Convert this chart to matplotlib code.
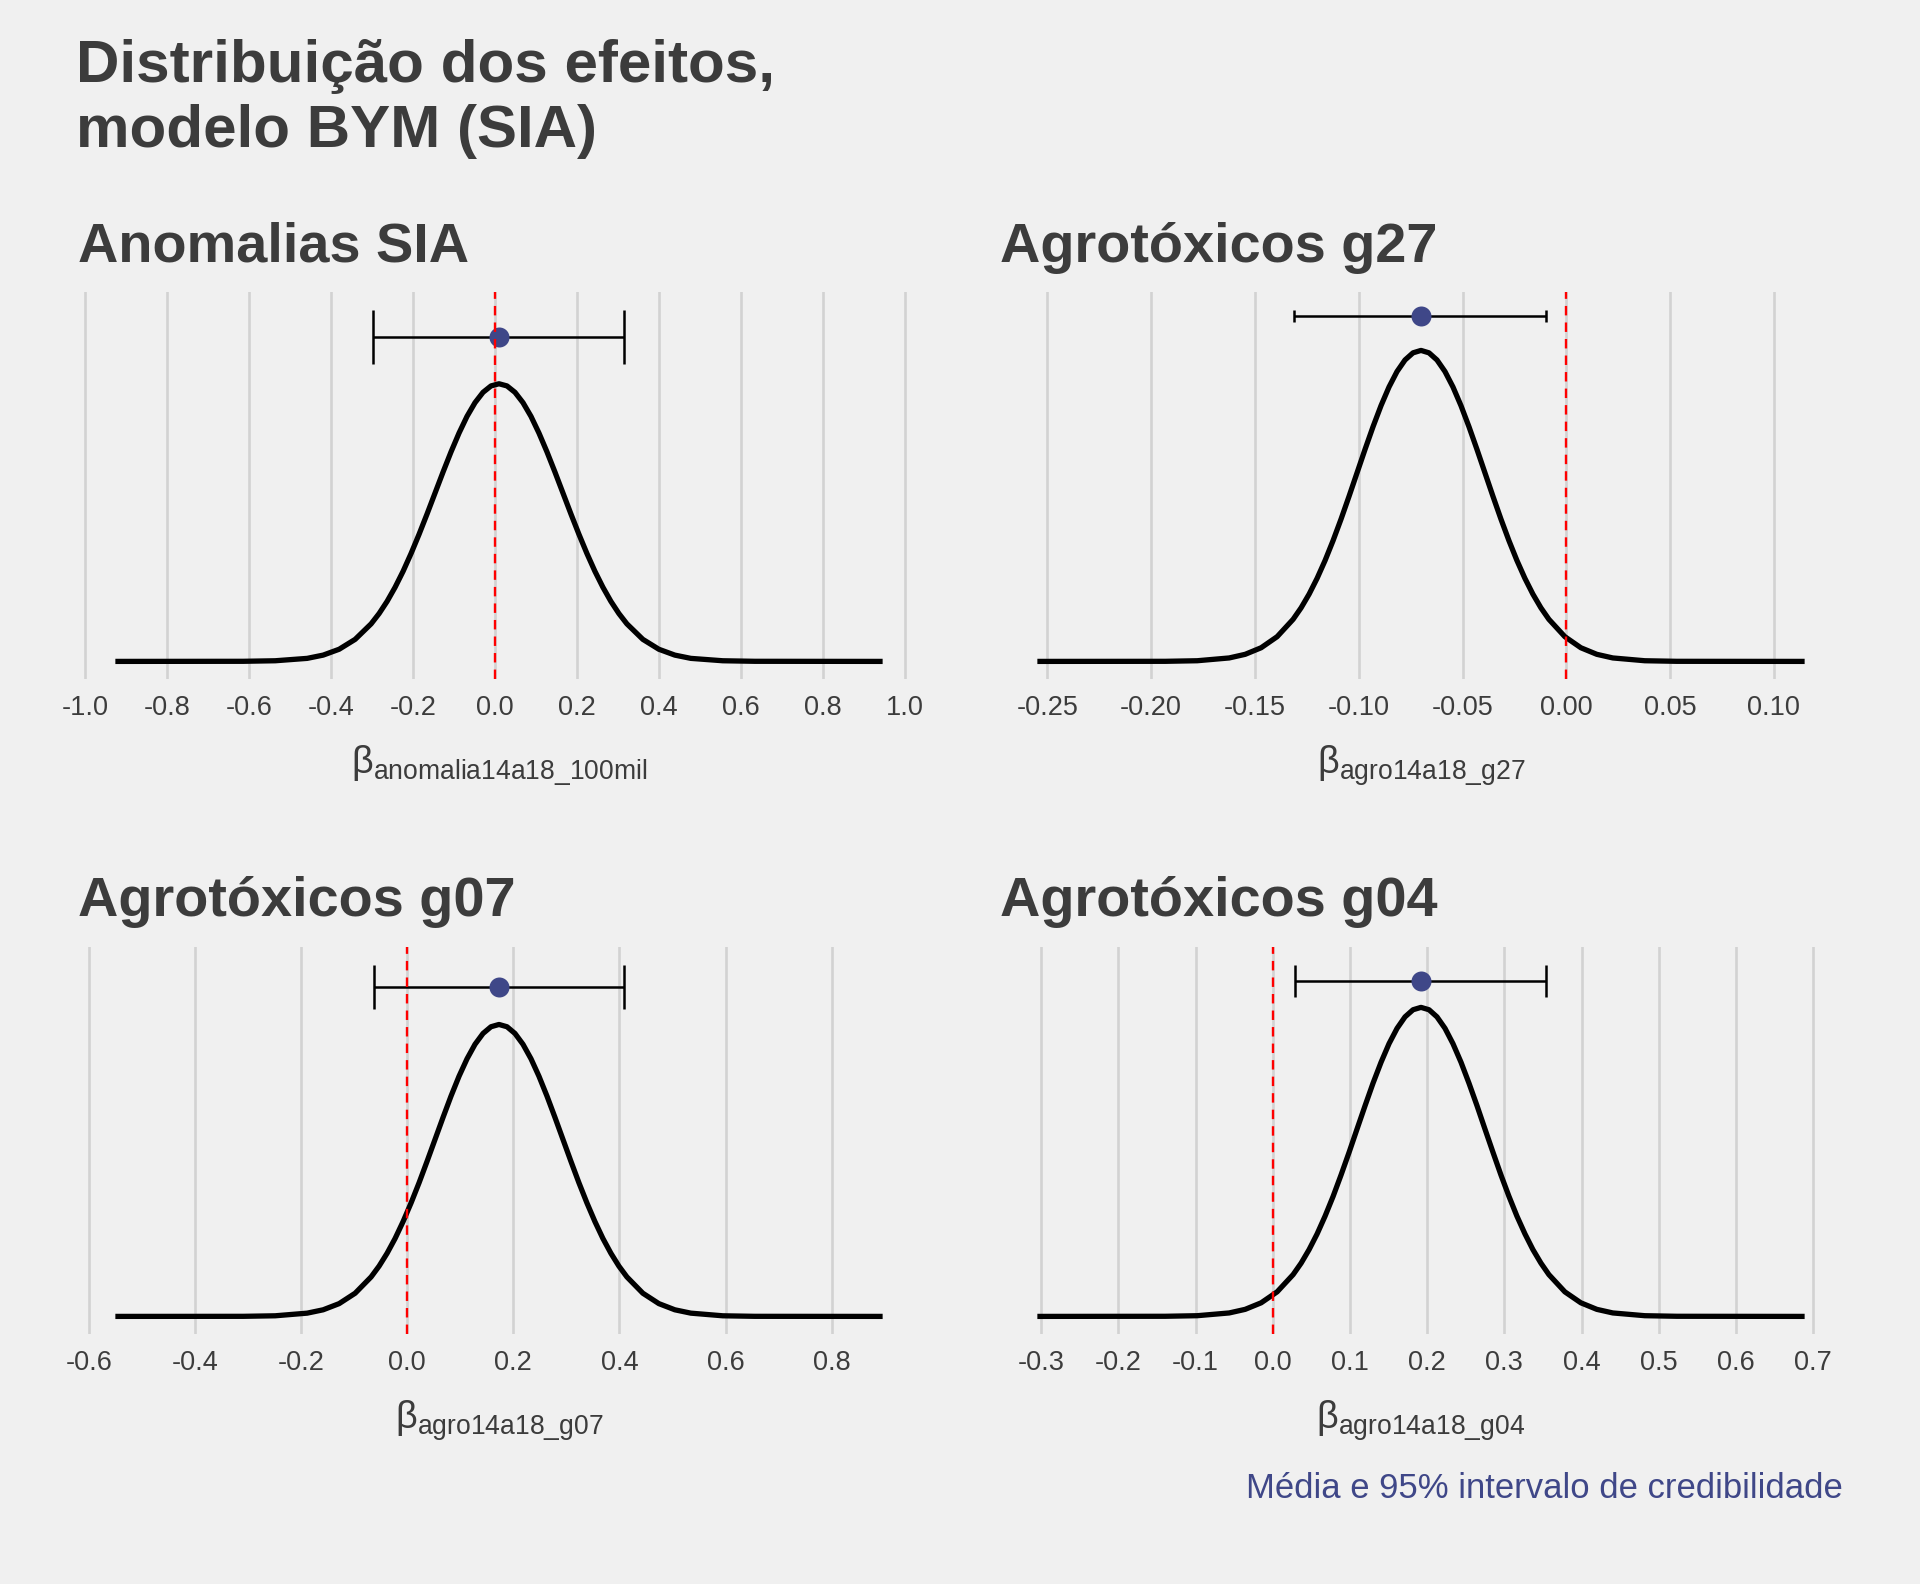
import matplotlib
matplotlib.use("Agg")
import matplotlib.pyplot as plt

# Textos
titulo = ["Distribuição dos efeitos,", "modelo BYM (SIA)"]
paineis = ["Anomalias SIA", "Agrotóxicos g27", "Agrotóxicos g07", "Agrotóxicos g04"]
variaveis = ["anomalia14a18_100mil", "agro14a18_g27", "agro14a18_g07", "agro14a18_g04"]
legenda = "Média e 95% intervalo de credibilidade"

# Densidades marginais
anom_x = [-0.926, -0.614, -0.536, -0.458, -0.419, -0.380, -0.341, -0.302, -0.2825, -0.263,
          -0.2435, -0.224, -0.2045, -0.185, -0.1655, -0.146, -0.1265, -0.107, -0.0875, -0.068,
          -0.0485, -0.029, -0.0095, 0.010, 0.0295, 0.049, 0.0685, 0.088, 0.1075, 0.127,
          0.1465, 0.166, 0.1855, 0.205, 0.2245, 0.244, 0.2635, 0.283, 0.3025, 0.322,
          0.361, 0.400, 0.439, 0.478, 0.556, 0.634, 0.946]
anom_dens = [0.000, 0.001, 0.006, 0.028, 0.058, 0.112, 0.203, 0.346, 0.441, 0.553,
             0.683, 0.830, 0.994, 1.171, 1.358, 1.551, 1.744, 1.930, 2.103, 2.257,
             2.383, 2.478, 2.537, 2.557, 2.537, 2.478, 2.383, 2.257, 2.103, 1.930,
             1.744, 1.551, 1.358, 1.171, 0.994, 0.830, 0.683, 0.553, 0.441, 0.346,
             0.203, 0.112, 0.058, 0.028, 0.006, 0.001, 0.000]

g27_x = [-0.2548, -0.1932, -0.1778, -0.1624, -0.1547, -0.1470, -0.1393, -0.1316, -0.12775, -0.1239,
         -0.12005, -0.1162, -0.11235, -0.1085, -0.10465, -0.1008, -0.09695, -0.0931, -0.08925, -0.0854,
         -0.08155, -0.0777, -0.07385, -0.0700, -0.06615, -0.0623, -0.05845, -0.0546, -0.05075, -0.0469,
         -0.04305, -0.0392, -0.03535, -0.0315, -0.02765, -0.0238, -0.01995, -0.0161, -0.01225, -0.0084,
         -0.0007, 0.0070, 0.0147, 0.0224, 0.0378, 0.0532, 0.1148]
g27_dens = [0.000, 0.004, 0.028, 0.144, 0.295, 0.569, 1.030, 1.753, 2.233, 2.801,
            3.459, 4.204, 5.032, 5.929, 6.878, 7.855, 8.831, 9.775, 10.652, 11.428,
            12.071, 12.552, 12.849, 12.950, 12.849, 12.552, 12.071, 11.428, 10.652, 9.775,
            8.831, 7.855, 6.878, 5.929, 5.032, 4.204, 3.459, 2.801, 2.233, 1.753,
            1.030, 0.569, 0.295, 0.144, 0.028, 0.004, 0.000]

g07_x = [-0.550, -0.309, -0.2488, -0.1885, -0.1584, -0.1283, -0.0981, -0.0680, -0.0529, -0.0379,
         -0.0228, -0.0078, 0.0073, 0.0224, 0.0374, 0.0525, 0.0676, 0.0826, 0.0977, 0.1128,
         0.1278, 0.1429, 0.1579, 0.173, 0.1881, 0.2031, 0.2182, 0.2333, 0.2483, 0.2634,
         0.2784, 0.2935, 0.3086, 0.3236, 0.3387, 0.3538, 0.3688, 0.3839, 0.3989, 0.4140,
         0.4441, 0.4743, 0.5044, 0.5345, 0.5948, 0.6550, 0.8960]
g07_dens = [0.000, 0.001, 0.007, 0.037, 0.075, 0.145, 0.263, 0.448, 0.571, 0.716,
            0.884, 1.075, 1.287, 1.516, 1.758, 2.008, 2.258, 2.499, 2.724, 2.922,
            3.086, 3.209, 3.285, 3.311, 3.285, 3.209, 3.086, 2.922, 2.724, 2.499,
            2.258, 2.008, 1.758, 1.516, 1.287, 1.075, 0.884, 0.716, 0.571, 0.448,
            0.263, 0.145, 0.075, 0.037, 0.007, 0.001, 0.000]

g04_x = [-0.3048, -0.1392, -0.0978, -0.0564, -0.0357, -0.0150, 0.0057, 0.0264, 0.0368, 0.0471,
         0.0575, 0.0678, 0.0782, 0.0885, 0.0989, 0.1092, 0.1196, 0.1299, 0.1403, 0.1506,
         0.1610, 0.1713, 0.1817, 0.192, 0.2024, 0.2127, 0.2231, 0.2334, 0.2438, 0.2541,
         0.2645, 0.2748, 0.2852, 0.2955, 0.3059, 0.3162, 0.3266, 0.3369, 0.3473, 0.3576,
         0.3783, 0.3990, 0.4197, 0.4404, 0.4818, 0.5232, 0.6888]
g04_dens = [0.000, 0.002, 0.011, 0.054, 0.110, 0.212, 0.383, 0.652, 0.831, 1.042,
            1.287, 1.564, 1.872, 2.206, 2.559, 2.922, 3.286, 3.637, 3.963, 4.252,
            4.491, 4.670, 4.781, 4.818, 4.781, 4.670, 4.491, 4.252, 3.963, 3.637,
            3.286, 2.922, 2.559, 2.206, 1.872, 1.564, 1.287, 1.042, 0.831, 0.652,
            0.383, 0.212, 0.110, 0.054, 0.011, 0.002, 0.000]

# Média e intervalo de 95%
medias = [0.010, -0.070, 0.173, 0.192]
inferior = [-0.298, -0.131, -0.063, 0.029]
superior = [0.315, -0.010, 0.409, 0.3545]
altura_barra = [2.99, 14.40, 3.74, 5.235]

# Eixos x
ticks_anom = [-1.0, -0.8, -0.6, -0.4, -0.2, 0.0, 0.2, 0.4, 0.6, 0.8, 1.0]
ticks_g27 = [-0.25, -0.20, -0.15, -0.10, -0.05, 0.00, 0.05, 0.10]
ticks_g07 = [-0.6, -0.4, -0.2, 0.0, 0.2, 0.4, 0.6, 0.8]
ticks_g04 = [-0.3, -0.2, -0.1, 0.0, 0.1, 0.2, 0.3, 0.4, 0.5, 0.6, 0.7]
decimais = [1, 2, 1, 1]

curvas_x = [anom_x, g27_x, g07_x, g04_x]
curvas_y = [anom_dens, g27_dens, g07_dens, g04_dens]
ticks = [ticks_anom, ticks_g27, ticks_g07, ticks_g04]

fundo = "#F0F0F0"
texto = "#3C3C3C"
azul = "#3F4788"

plt.rcParams["font.family"] = ["Liberation Sans", "DejaVu Sans"]
plt.rcParams["mathtext.fontset"] = "custom"
plt.rcParams["mathtext.rm"] = "Liberation Sans"
plt.rcParams["mathtext.it"] = "Liberation Sans"
plt.rcParams["mathtext.default"] = "regular"

W, H = 1920, 1584
fig = plt.figure(figsize=(W / 100, H / 100), dpi=100, facecolor=fundo)

# posições dos painéis em pixels: (esquerda, topo)
lefts = [77, 999, 77, 999]
tops = [292, 292, 947, 947]
pw, ph = 844, 387

for i in range(4):
    ax = fig.add_axes([lefts[i] / W, 1 - (tops[i] + ph) / H, pw / W, ph / H])
    ax.set_facecolor(fundo)
    for s in ax.spines.values():
        s.set_visible(False)

    cx, cy = curvas_x[i], curvas_y[i]
    ax.plot(cx, cy, color="black", lw=3.8, solid_joinstyle="round",
            solid_capstyle="butt", zorder=3)

    y = altura_barra[i]
    ax.hlines(y, inferior[i], superior[i], color="black", lw=1.8, zorder=4)
    ax.vlines([inferior[i], superior[i]], y - 0.25, y + 0.25, color="black", lw=1.8, zorder=4)
    ax.plot([medias[i]], [y], "o", color=azul, ms=14.4, mec="none", zorder=5)

    ax.axvline(0, color="red", lw=1.7, dashes=(4, 3), zorder=6)

    xmin, xmax = min(cx), max(cx)
    dx = (xmax - xmin) * 0.05
    ax.set_xlim(xmin - dx, xmax + dx)
    ytop = y + 0.25
    ax.set_ylim(-0.05 * ytop, 1.05 * ytop)

    ax.set_xticks(ticks[i])
    ax.set_xticklabels([f"{t:.{decimais[i]}f}" for t in ticks[i]])
    ax.set_yticks([])
    ax.tick_params(axis="x", length=0, pad=11.5, labelsize=19.5, labelcolor=texto)
    ax.grid(axis="x", color="#D2D2D2", lw=1.9)
    ax.set_axisbelow(True)

    ax.text(0.5, -95 / ph, r"$\beta_{" + variaveis[i].replace("_", r"\_") + "}$",
            transform=ax.transAxes, ha="center", va="baseline", fontsize=27.3, color=texto)

    fig.text((lefts[i] + 1) / W, 1 - (tops[i] - 30.5) / H, paineis[i],
             fontsize=40.2, fontweight="bold", color=texto, ha="left", va="baseline")

fig.text(76 / W, 1 - 82.3 / H, titulo[0], fontsize=43.3, fontweight="bold",
         color=texto, ha="left", va="baseline")
fig.text(76 / W, 1 - 146.7 / H, titulo[1], fontsize=43.3, fontweight="bold",
         color=texto, ha="left", va="baseline")

fig.text(1843 / W, 1 - 1498 / H, legenda, fontsize=24.9, color=azul, ha="right", va="baseline")

fig.savefig("out.png", dpi=100, facecolor=fundo)
